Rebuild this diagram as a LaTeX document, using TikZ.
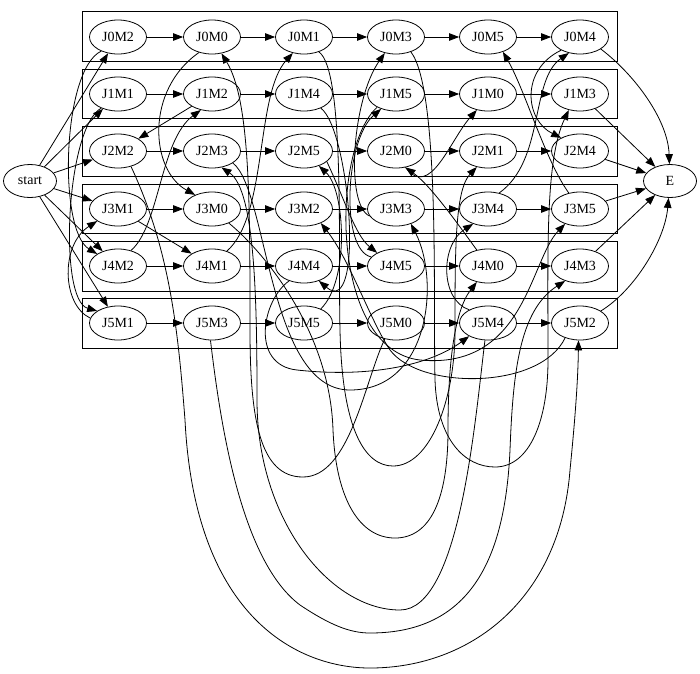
\documentclass[tikz,border=0pt]{standalone}
\usepackage{fontspec}
\setmainfont{Liberation Serif}
\usetikzlibrary{shapes.geometric,arrows.meta}
\tikzset{
  op/.style={ellipse,draw,line width=0.8pt,minimum width=57pt,minimum height=34pt,inner sep=0pt,font=\fontsize{14pt}{16pt}\selectfont},
  term/.style={op,minimum width=53pt,minimum height=33pt},
  arr/.style={-{Triangle[length=10pt,width=7.5pt]},line width=0.8pt},
  clu/.style={draw,line width=0.8pt}
}
\begin{document}
\begin{tikzpicture}[x=1pt,y=-1pt]
\useasboundingbox (0,0) rectangle (700,673);
% clusters
\foreach \t/\b in {11/61,69/118,126/176,184/233,241/291,298/348}
  \draw[clu] (82,\t) rectangle (617,\b);
% nodes
\node[term] (start) at (30,181) {start};
\node[term] (E) at (670,181) {E};
\node[op] (J0M2) at (118,37) {J0M2};
\node[op] (J0M0) at (212,37) {J0M0};
\node[op] (J0M1) at (304,37) {J0M1};
\node[op] (J0M3) at (396,37) {J0M3};
\node[op] (J0M5) at (488,37) {J0M5};
\node[op] (J0M4) at (580,37) {J0M4};
\node[op] (J1M1) at (118,94) {J1M1};
\node[op] (J1M2) at (212,94) {J1M2};
\node[op] (J1M4) at (304,94) {J1M4};
\node[op] (J1M5) at (396,94) {J1M5};
\node[op] (J1M0) at (488,94) {J1M0};
\node[op] (J1M3) at (580,94) {J1M3};
\node[op] (J2M2) at (118,151) {J2M2};
\node[op] (J2M3) at (212,151) {J2M3};
\node[op] (J2M5) at (304,151) {J2M5};
\node[op] (J2M0) at (396,151) {J2M0};
\node[op] (J2M1) at (488,151) {J2M1};
\node[op] (J2M4) at (580,151) {J2M4};
\node[op] (J3M1) at (118,209) {J3M1};
\node[op] (J3M0) at (212,209) {J3M0};
\node[op] (J3M2) at (304,209) {J3M2};
\node[op] (J3M3) at (396,209) {J3M3};
\node[op] (J3M4) at (488,209) {J3M4};
\node[op] (J3M5) at (580,209) {J3M5};
\node[op] (J4M2) at (118,266) {J4M2};
\node[op] (J4M1) at (212,266) {J4M1};
\node[op] (J4M4) at (304,266) {J4M4};
\node[op] (J4M5) at (396,266) {J4M5};
\node[op] (J4M0) at (488,266) {J4M0};
\node[op] (J4M3) at (580,266) {J4M3};
\node[op] (J5M1) at (118,323) {J5M1};
\node[op] (J5M3) at (212,323) {J5M3};
\node[op] (J5M5) at (304,323) {J5M5};
\node[op] (J5M0) at (396,323) {J5M0};
\node[op] (J5M4) at (488,323) {J5M4};
\node[op] (J5M2) at (580,323) {J5M2};
% job chains
\foreach \a/\b in {J0M2/J0M0,J0M0/J0M1,J0M1/J0M3,J0M3/J0M5,J0M5/J0M4,
                   J1M1/J1M2,J1M2/J1M4,J1M4/J1M5,J1M5/J1M0,J1M0/J1M3,
                   J2M2/J2M3,J2M3/J2M5,J2M5/J2M0,J2M0/J2M1,J2M1/J2M4,
                   J3M1/J3M0,J3M0/J3M2,J3M2/J3M3,J3M3/J3M4,J3M4/J3M5,
                   J4M2/J4M1,J4M1/J4M4,J4M4/J4M5,J4M5/J4M0,J4M0/J4M3,
                   J5M1/J5M3,J5M3/J5M5,J5M5/J5M0,J5M0/J5M4,J5M4/J5M2}
  \draw[arr] (\a) -- (\b);
% start edges
\foreach \b in {J0M2,J1M1,J2M2,J3M1,J4M2,J5M1}
  \draw[arr] (start) -- (\b);
% end edges
\draw[arr] (J0M4.330) .. controls (635,75) and (668,120) .. (E.92);
\draw[arr] (J1M3) -- (E);
\draw[arr] (J2M4) -- (E);
\draw[arr] (J3M5) -- (E);
\draw[arr] (J4M3) -- (E);
\draw[arr] (J5M2.30) .. controls (635,290) and (665,240) .. (E.265);
% machine edges
\draw[arr] (J0M2.220) .. controls (62,70) and (58,230) .. (J4M2.150);
\draw[arr] (J1M1.220) .. controls (66,128) and (58,300) .. (J5M1.150);
\draw[arr] (J5M1.170) .. controls (62,305) and (60,245) .. (J3M1.210);
\draw[arr] (J4M2.50) .. controls (160,225) and (160,140) .. (J1M2.235);
\draw[arr] (J1M2) -- (J2M2);
\draw[arr] (J3M1) -- (J4M1);
\draw[arr] (J4M1.45) .. controls (268,215) and (255,95) .. (J0M1.235);
\draw[arr] (J0M0.230) .. controls (145,90) and (150,170) .. (J3M0.140);
\draw[arr] (J2M2.310) .. controls (170,250) and (178,330) .. (185,420)
   .. controls (195,620) and (300,668) .. (370,668)
   .. controls (470,668) and (560,600) .. (570,470)
   .. controls (575,420) and (578,380) .. (J5M2.265);
\draw[arr] (J5M3.265) .. controls (220,420) and (240,560) .. (300,605)
   .. controls (330,625) and (350,633) .. (370,633)
   .. controls (470,633) and (505,560) .. (510,450)
   .. controls (513,370) and (520,310) .. (J4M3.225);
\draw[arr] (J5M0.235) .. controls (365,380) and (350,477) .. (303,477)
   .. controls (260,477) and (250,420) .. (250,330)
   .. controls (250,200) and (250,100) .. (J0M0.300);
\draw[arr] (J5M4.260) .. controls (475,420) and (460,610) .. (400,610)
   .. controls (330,610) and (257,520) .. (257,400)
   .. controls (257,300) and (255,190) .. (J2M3.300);
\draw[arr] (J3M3.195) .. controls (345,205) and (352,100) .. (J0M3.235);
\draw[arr] (J3M5.125) .. controls (545,160) and (525,90) .. (J0M5.315);
\draw[arr] (J3M4.55) .. controls (545,160) and (530,80) .. (J0M4.235);
\draw[arr] (J0M4.215) .. controls (520,70) and (525,120) .. (J2M4.145);
\draw[arr] (J2M5.335) .. controls (345,200) and (355,235) .. (J4M5.145);
\draw[arr] (J5M5.40) .. controls (350,280) and (345,190) .. (J2M5.315);
\draw[arr] (J4M5.160) .. controls (340,250) and (345,140) .. (J1M5.225);
\draw[arr] (J4M0.125) .. controls (455,220) and (430,185) .. (J2M0.300);
\draw[arr] (J0M1.315) .. controls (345,70) and (338,250) .. (340,330)
   .. controls (342,430) and (365,466) .. (393,466)
   .. controls (430,466) and (455,400) .. (455,330)
   .. controls (455,250) and (455,190) .. (J2M1.235);
\draw[arr] (J1M4.320) .. controls (350,130) and (365,320) .. (J4M4.315);
\draw[arr] (J4M4.225) .. controls (262,300) and (250,365) .. (297,370)
   .. controls (370,378) and (430,365) .. (J5M4.215);
\draw[arr] (J5M4.145) .. controls (440,300) and (440,245) .. (J3M4.225);
\draw[arr] (J3M0.320) .. controls (262,250) and (330,330) .. (333,430)
   .. controls (336,500) and (360,538) .. (395,538)
   .. controls (430,538) and (448,500) .. (448,430)
   .. controls (448,360) and (455,310) .. (J4M0.235);
\draw[arr] (J2M0.300) .. controls (430,200) and (450,140) .. (J1M0.235);
\draw[arr] (J1M5.215) .. controls (330,150) and (330,350) .. (420,360)
   .. controls (525,370) and (530,260) .. (J3M5.225);
\draw[arr] (J5M2.225) .. controls (540,390) and (420,390) .. (390,350)
   .. controls (370,320) and (350,260) .. (J3M2.320);
\draw[arr] (J2M3.330) .. controls (268,190) and (268,390) .. (350,390)
   .. controls (430,390) and (440,280) .. (J3M3.315);
\draw[arr] (J0M3.315) .. controls (440,90) and (433,300) .. (435,380)
   .. controls (437,440) and (465,467) .. (495,467)
   .. controls (530,467) and (548,420) .. (548,360)
   .. controls (548,250) and (545,160) .. (J1M3.235);
\end{tikzpicture}
\end{document}
